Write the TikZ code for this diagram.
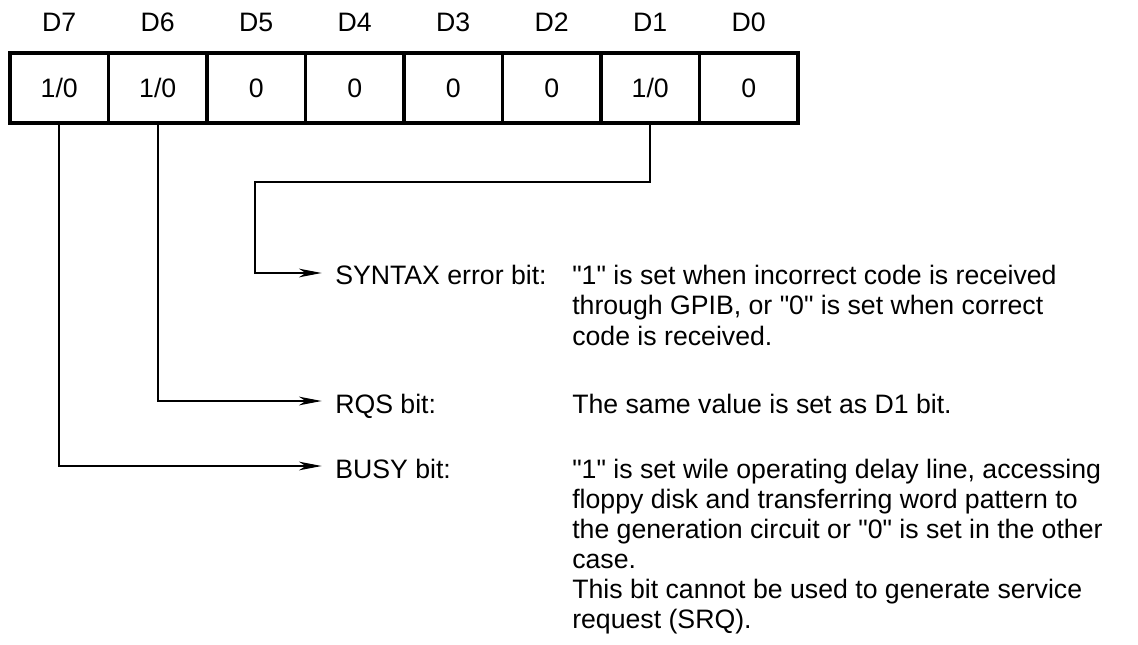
\documentclass[tikz,border=0pt]{standalone}
\usepackage{fontspec}
\setmainfont[Ligatures=TeXOff]{Liberation Sans}
\usetikzlibrary{arrows.meta}
\newcommand\dq{\char"22\relax}
\tikzset{
  cell/.style={draw, line width=2.4pt, minimum width=73.875pt, minimum height=52.5pt, inner sep=0pt, anchor=center, text height=14pt, text depth=0pt},
  hdr/.style={inner sep=0pt, text height=14pt, text depth=0pt},
  conn/.style={line width=1.3pt},
  arr/.style={conn, -{Stealth[length=17pt, width=6.5pt, inset=5pt]}},
  lbl/.style={anchor=base west, inner sep=0pt, text height=14pt, text depth=0pt},
  desc/.style={anchor=base west, inner sep=0pt},
}
\begin{document}
\begin{tikzpicture}[x=0.75pt, y=-0.75pt, font=\fontsize{20}{22.5}\selectfont]
\useasboundingbox[fill=white] (0,0) rectangle (1138,645);
% cells
\node[cell] (c7) at (59.25,88) {1/0};
\node[cell] (c6) at (157.75,88) {1/0};
\node[cell] (c5) at (256.25,88) {0};
\node[cell] (c4) at (354.75,88) {0};
\node[cell] (c3) at (453.25,88) {0};
\node[cell] (c2) at (551.75,88) {0};
\node[cell] (c1) at (650.25,88) {1/0};
\node[cell] (c0) at (748.75,88) {0};
% headers
\node[hdr] (h7) at (59.25,22) {D7};
\node[hdr] (h6) at (157.75,22) {D6};
\node[hdr] (h5) at (256.25,22) {D5};
\node[hdr] (h4) at (354.75,22) {D4};
\node[hdr] (h3) at (453.25,22) {D3};
\node[hdr] (h2) at (551.75,22) {D2};
\node[hdr] (h1) at (650.25,22) {D1};
\node[hdr] (h0) at (748.75,22) {D0};
% labels
\node[lbl] (syn) at (335,285) {SYNTAX error bit:};
\node[lbl] (rqs) at (335,413) {RQS bit:};
\node[lbl] (busy) at (335,478) {BUSY bit:};
% descriptions
\node[desc] (dsyn) at (572,285) {\vtop{\hbox{\dq1\dq{} is set when incorrect code is received}\hbox{through GPIB, or \dq0\dq{} is set when correct}\hbox{code is received.}}};
\node[desc] (drqs) at (572,413) {The same value is set as D1 bit.};
\node[desc] (dbusy) at (572,478) {\vtop{\hbox{\dq1\dq{} is set wile operating delay line, accessing}\hbox{floppy disk and transferring word pattern to}\hbox{the generation circuit or \dq0\dq{} is set in the other}\hbox{case.}\hbox{This bit cannot be used to generate service}\hbox{request (SRQ).}}};
% connectors
\coordinate (k1) at (650.25,182);
\coordinate (k2) at (255,182);
\coordinate (e1) at ([xshift=-10pt,yshift=2pt]syn.west);
\coordinate (e2) at ([xshift=-10pt,yshift=2pt]rqs.west);
\coordinate (e3) at ([xshift=-10pt,yshift=2pt]busy.west);
\draw[arr] (c1.south) -- (k1) -- (k2) |- (e1);
\draw[arr] (c6.south) |- (e2);
\draw[arr] (c7.south) |- (e3);
\end{tikzpicture}
\end{document}
